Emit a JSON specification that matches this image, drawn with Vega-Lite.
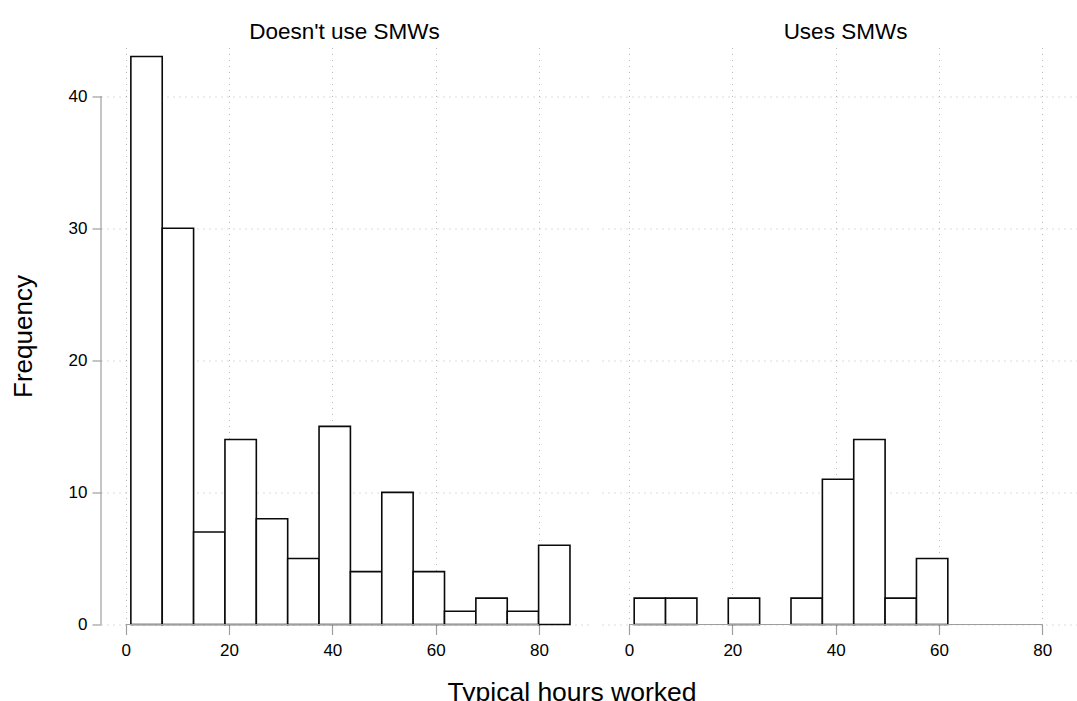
{
  "$schema": "https://vega.github.io/schema/vega-lite/v6.json",
  "autosize": {"type": "pad"},
  "padding": {"left": 10, "top": 20.5, "right": 0, "bottom": -5},
  "background": "white",
  "config": {
    "font": "Liberation Sans",
    "view": {"stroke": null},
    "axis": {
      "grid": true,
      "gridDash": [1, 5],
      "gridColor": "#b8b8b8",
      "gridWidth": 1,
      "domain": false,
      "tickColor": "#9e9e9e",
      "tickWidth": 1.2,
      "labelFontSize": 17,
      "labelColor": "#000000",
      "labelFlush": false,
      "titleFontSize": 26,
      "titleFontWeight": "normal",
      "titleColor": "#000000"
    }
  },
  "datasets": {
    "hist": [
      {"panel": "Doesn't use SMWs", "lo": 1.0, "hi": 7.0714, "count": 43},
      {"panel": "Doesn't use SMWs", "lo": 7.0714, "hi": 13.1429, "count": 30},
      {"panel": "Doesn't use SMWs", "lo": 13.1429, "hi": 19.2143, "count": 7},
      {"panel": "Doesn't use SMWs", "lo": 19.2143, "hi": 25.2857, "count": 14},
      {"panel": "Doesn't use SMWs", "lo": 25.2857, "hi": 31.3571, "count": 8},
      {"panel": "Doesn't use SMWs", "lo": 31.3571, "hi": 37.4286, "count": 5},
      {"panel": "Doesn't use SMWs", "lo": 37.4286, "hi": 43.5, "count": 15},
      {"panel": "Doesn't use SMWs", "lo": 43.5, "hi": 49.5714, "count": 4},
      {"panel": "Doesn't use SMWs", "lo": 49.5714, "hi": 55.6429, "count": 10},
      {"panel": "Doesn't use SMWs", "lo": 55.6429, "hi": 61.7143, "count": 4},
      {"panel": "Doesn't use SMWs", "lo": 61.7143, "hi": 67.7857, "count": 1},
      {"panel": "Doesn't use SMWs", "lo": 67.7857, "hi": 73.8571, "count": 2},
      {"panel": "Doesn't use SMWs", "lo": 73.8571, "hi": 79.9286, "count": 1},
      {"panel": "Doesn't use SMWs", "lo": 79.9286, "hi": 86.0, "count": 6},
      {"panel": "Uses SMWs", "lo": 1.0, "hi": 7.0714, "count": 2},
      {"panel": "Uses SMWs", "lo": 7.0714, "hi": 13.1429, "count": 2},
      {"panel": "Uses SMWs", "lo": 19.2143, "hi": 25.2857, "count": 2},
      {"panel": "Uses SMWs", "lo": 31.3571, "hi": 37.4286, "count": 2},
      {"panel": "Uses SMWs", "lo": 37.4286, "hi": 43.5, "count": 11},
      {"panel": "Uses SMWs", "lo": 43.5, "hi": 49.5714, "count": 14},
      {"panel": "Uses SMWs", "lo": 49.5714, "hi": 55.6429, "count": 2},
      {"panel": "Uses SMWs", "lo": 55.6429, "hi": 61.7143, "count": 5}
    ]
  },
  "spacing": 14,
  "bounds": "flush",
  "hconcat": [
    {
      "width": 487,
      "height": 577,
      "title": {"text": "Doesn't use SMWs", "fontSize": 22.5, "fontWeight": "normal", "color": "#000000", "frame": "group", "anchor": "middle", "baseline": "alphabetic", "offset": -14},
      "layer": [
        {
          "data": {"name": "hist"},
          "transform": [{"filter": {"field": "panel", "equal": "Doesn't use SMWs"}}],
          "mark": {"type": "bar", "fill": "#ffffff", "stroke": "#0a0a0a", "strokeWidth": 1.6},
          "encoding": {
            "x": {
              "field": "lo", "type": "quantitative",
              "scale": {"domain": [-4.78, 89.49], "nice": false, "zero": false},
              "axis": {"values": [0, 20, 40, 60, 80], "tickSize": 10, "labelPadding": 7.5, "title": "Typical hours worked", "titleX": 470.5, "titleY": 76, "titleBaseline": "alphabetic", "titleAlign": "center", "titleFontSize": 26.5}
            },
            "x2": {"field": "hi"},
            "y": {
              "field": "count", "type": "quantitative",
              "scale": {"domain": [0, 43.68], "nice": false},
              "axis": {"values": [0, 10, 20, 30, 40], "tickSize": 9, "labelPadding": 5, "title": "Frequency", "titleX": -70, "titleY": 288.5, "titleBaseline": "alphabetic", "titleAlign": "center", "titleAngle": 270}
            },
            "y2": {"datum": 0}
          }
        },
        {
          "data": {"values": [{}]},
          "mark": {"type": "rule", "color": "#9e9e9e", "strokeWidth": 1.2},
          "encoding": {"x": {"datum": -4.78}, "y": {"datum": 0}, "y2": {"datum": 40}}
        },
        {
          "data": {"values": [{}]},
          "mark": {"type": "rule", "color": "#9e9e9e", "strokeWidth": 1.2},
          "encoding": {"x": {"datum": 0}, "x2": {"datum": 80}, "y": {"datum": 0}}
        }
      ]
    },
    {
      "width": 475,
      "height": 577,
      "title": {"text": "Uses SMWs", "fontSize": 22.5, "fontWeight": "normal", "color": "#000000", "frame": "group", "anchor": "middle", "baseline": "alphabetic", "offset": -14, "dx": 6},
      "layer": [
        {
          "data": {"name": "hist"},
          "transform": [{"filter": {"field": "panel", "equal": "Uses SMWs"}}],
          "mark": {"type": "bar", "fill": "#ffffff", "stroke": "#0a0a0a", "strokeWidth": 1.6},
          "encoding": {
            "x": {
              "field": "lo", "type": "quantitative",
              "scale": {"domain": [-5.23, 86.72], "nice": false, "zero": false},
              "axis": {"values": [0, 20, 40, 60, 80], "tickSize": 10, "labelPadding": 7.5, "title": null}
            },
            "x2": {"field": "hi"},
            "y": {
              "field": "count", "type": "quantitative",
              "scale": {"domain": [0, 43.68], "nice": false},
              "axis": {"values": [0, 10, 20, 30, 40], "labels": false, "ticks": false, "title": null}
            },
            "y2": {"datum": 0}
          }
        },
        {
          "data": {"values": [{}]},
          "mark": {"type": "rule", "color": "#9e9e9e", "strokeWidth": 1.2},
          "encoding": {"x": {"datum": 0}, "x2": {"datum": 80}, "y": {"datum": 0}}
        }
      ]
    }
  ]
}
